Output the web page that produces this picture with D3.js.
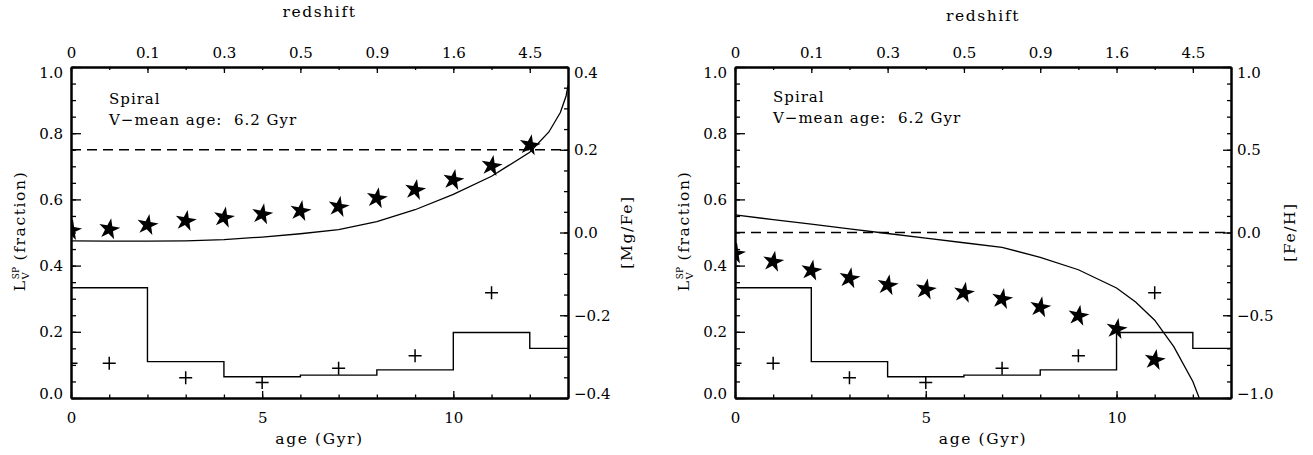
<!DOCTYPE html>
<html>
<head>
<meta charset="utf-8">
<script src="https://cdn.jsdelivr.net/npm/d3@7"></script>
<style>
body { margin: 0; background: #fff; }
svg text { font-family: "DejaVu Serif", "Liberation Serif", serif; font-size: 15px; fill: #000; }
svg text.title { font-size: 15.5px; letter-spacing: 1.6px; }
svg text.note { font-size: 15px; letter-spacing: 1px; }
</style>
</head>
<body>
<div id="chart"></div>
<script>
// --- data ---
var redshiftAges = [0, 2, 4, 6, 8, 10, 12];
var redshiftLabels = ["0", "0.1", "0.3", "0.5", "0.9", "1.6", "4.5"];

// light fraction per age bin (histogram) and single-age points (+)
var binEdges = [0, 2, 4, 6, 8, 10, 12, 13];
var binFrac = [0.333, 0.11, 0.064, 0.069, 0.085, 0.198, 0.15];
var plusAges = [0, 1, 3, 5, 7, 9, 11];
var plusFrac = [0.105, 0.105, 0.061, 0.047, 0.09, 0.128, 0.318];

// left panel: [Mg/Fe]
var starAgesMg = [0, 1, 2, 3, 4, 5, 6, 7, 8, 9, 10, 11, 12];
var starMgFe = [0.006, 0.008, 0.018, 0.028, 0.036, 0.044, 0.052, 0.062, 0.083, 0.103, 0.127, 0.161, 0.211];
var curveAgesMg = [0, 1, 2, 3, 4, 5, 6, 7, 8, 9, 10, 11, 12, 12.5, 12.8, 12.95, 13];
var curveMgFe = [-0.02, -0.021, -0.021, -0.02, -0.017, -0.011, -0.003, 0.007, 0.026, 0.055, 0.092, 0.136, 0.194, 0.243, 0.29, 0.33, 0.355];
var refMgFe = 0.2;

// right panel: [Fe/H]
var starAgesFe = [0, 1, 2, 3, 4, 5, 6, 7, 8, 9, 10, 11];
var starFeH = [-0.126, -0.176, -0.23, -0.276, -0.318, -0.344, -0.364, -0.402, -0.452, -0.503, -0.583, -0.77];
var curveAgesFe = [0, 1, 2, 3, 4, 5, 6, 7, 8, 9, 10, 10.5, 11, 11.5, 12, 12.3];
var curveFeH = [0.106, 0.078, 0.05, 0.022, -0.006, -0.034, -0.062, -0.09, -0.15, -0.225, -0.335, -0.42, -0.53, -0.69, -0.9, -1.08];
var refFeH = 0.0;

var svg = d3.select("#chart").append("svg")
    .attr("width", 1313)
    .attr("height", 455);

var top0 = 67, bottom0 = 398;

function styleAxis(g) {
    g.attr("font-family", null).attr("font-size", null);
    g.select(".domain").attr("stroke", "#000").attr("stroke-width", 2);
    g.selectAll(".tick line").attr("stroke", "#000").attr("stroke-width", 1.3);
}

function edgeLabels(g, lo, hi) {
    g.selectAll(".tick text").attr("dy", function(d) {
        if (Math.abs(d - hi) < 1e-9) return "0.72em";
        if (Math.abs(d - lo) < 1e-9) return "0em";
        return "0.33em";
    });
}

function drawPanel(o) {
    var x = d3.scaleLinear().domain([0, 13]).range([o.left, o.right]);
    var yL = d3.scaleLinear().domain([0, 1]).range([bottom0, top0]);
    var yR = d3.scaleLinear().domain(o.rDomain).range([bottom0, top0]);

    var clipId = "clip" + o.id;
    svg.append("clipPath").attr("id", clipId)
        .append("rect")
        .attr("x", o.left).attr("y", top0)
        .attr("width", o.right - o.left).attr("height", bottom0 - top0);

    var plot = svg.append("g").attr("clip-path", "url(#" + clipId + ")");

    // histogram
    var stepPts = binEdges.map(function(e, i) {
        return [e, binFrac[Math.min(i, binFrac.length - 1)]];
    });
    plot.append("path")
        .attr("d", d3.line()
            .x(function(d) { return x(d[0]); })
            .y(function(d) { return yL(d[1]); })
            .curve(d3.curveStepAfter)(stepPts))
        .attr("fill", "none").attr("stroke", "#000").attr("stroke-width", 1.4);

    // reference dashed line
    plot.append("line")
        .attr("x1", o.left).attr("x2", o.right)
        .attr("y1", yR(o.ref)).attr("y2", yR(o.ref))
        .attr("stroke", "#000").attr("stroke-width", 1.3)
        .attr("stroke-dasharray", "10,6");

    // model curve
    plot.append("path")
        .attr("d", d3.line()
            .x(function(d) { return x(d); })
            .y(function(d, i) { return yR(o.curveVals[i]); })(o.curveAges))
        .attr("fill", "none").attr("stroke", "#000").attr("stroke-width", 1.3);

    // plus markers
    var plus = plot.selectAll(".plus").data(plusAges).enter().append("g")
        .attr("transform", function(d, i) { return "translate(" + x(d) + "," + yL(plusFrac[i]) + ")"; });
    plus.append("path")
        .attr("d", "M-6.5,0H6.5M0,-6.5V6.5")
        .attr("stroke", "#000").attr("stroke-width", 1.5);

    // stars
    var star = d3.symbol().type(d3.symbolStar).size(140);
    plot.selectAll(".star").data(o.starAges).enter().append("path")
        .attr("d", star)
        .attr("transform", function(d, i) {
            return "translate(" + x(d) + "," + yR(o.starVals[i]) + ") rotate(10)";
        })
        .attr("fill", "#000");

    // axes
    var gb = svg.append("g").attr("transform", "translate(0," + bottom0 + ")");
    gb.call(d3.axisBottom(x).tickValues(d3.range(0, 14)).tickSize(-3.5).tickSizeOuter(0).tickFormat(""));
    styleAxis(gb);
    var gb2 = svg.append("g").attr("transform", "translate(0," + bottom0 + ")");
    gb2.call(d3.axisBottom(x).tickValues([0, 5, 10]).tickSize(-7).tickSizeOuter(0).tickPadding(14).tickFormat(d3.format("d")));
    styleAxis(gb2);

    var gt = svg.append("g").attr("transform", "translate(0," + top0 + ")");
    gt.call(d3.axisTop(x).tickValues(d3.range(0, 14)).tickSize(-3).tickSizeOuter(0).tickFormat(""));
    styleAxis(gt);
    var gt2 = svg.append("g").attr("transform", "translate(0," + top0 + ")");
    gt2.call(d3.axisTop(x).tickValues(redshiftAges).tickSize(-6).tickSizeOuter(0).tickPadding(9)
        .tickFormat(function(d, i) { return redshiftLabels[i]; }));
    styleAxis(gt2);

    var gl = svg.append("g").attr("transform", "translate(" + o.left + ",0)");
    gl.call(d3.axisLeft(yL).tickValues(d3.range(0, 21).map(function(k) { return k * 0.05; }))
        .tickSize(-5).tickSizeOuter(0).tickFormat(""));
    styleAxis(gl);
    var gl2 = svg.append("g").attr("transform", "translate(" + o.left + ",0)");
    gl2.call(d3.axisLeft(yL).tickValues([0, 0.2, 0.4, 0.6, 0.8, 1.0]).tickSize(-10).tickSizeOuter(0)
        .tickPadding(8).tickFormat(d3.format(".1f")));
    styleAxis(gl2);
    edgeLabels(gl2, 0, 1);

    var gr = svg.append("g").attr("transform", "translate(" + o.right + ",0)");
    gr.call(d3.axisRight(yR).tickValues(o.rMinor).tickSize(-4).tickSizeOuter(0).tickFormat(""));
    styleAxis(gr);
    var gr2 = svg.append("g").attr("transform", "translate(" + o.right + ",0)");
    gr2.call(d3.axisRight(yR).tickValues(o.rMajor).tickSize(-8).tickSizeOuter(0)
        .tickPadding(6).tickFormat(d3.format(".1f")));
    styleAxis(gr2);
    edgeLabels(gr2, o.rDomain[0], o.rDomain[1]);

    // titles
    var cx = (o.left + o.right) / 2;
    svg.append("text").attr("class", "title").attr("x", cx).attr("y", o.zTitleY)
        .attr("text-anchor", "middle").text("redshift");
    svg.append("text").attr("class", "title").attr("x", cx).attr("y", 444)
        .attr("text-anchor", "middle").text("age (Gyr)");

    var yl = svg.append("text").attr("class", "title")
        .attr("transform", "translate(" + (o.left - 46) + ",231) rotate(-90)")
        .attr("text-anchor", "middle");
    yl.append("tspan").text("L");
    yl.append("tspan").attr("dy", 4).style("font-size", "10px").style("letter-spacing", "0px").text("V");
    yl.append("tspan").attr("dx", -7).attr("dy", -10).style("font-size", "9px").style("letter-spacing", "0px").text("SP");
    yl.append("tspan").attr("dy", 6).text(" (fraction)");

    svg.append("text").attr("class", "title")
        .attr("transform", "translate(" + (o.right + 64) + ",232) rotate(-90)")
        .attr("text-anchor", "middle")
        .text(o.rTitle);

    svg.append("text").attr("class", "note").attr("x", o.left + 38).attr("y", o.noteY)
        .text("Spiral");
    svg.append("text").attr("class", "note").attr("x", o.left + 38).attr("y", o.noteY + 21)
        .attr("xml:space", "preserve").style("white-space", "pre")
        .text("V\u2212mean age:  6.2 Gyr");
}

drawPanel({
    id: "a", left: 71, right: 568,
    rDomain: [-0.4, 0.4],
    rMajor: [-0.4, -0.2, 0, 0.2, 0.4],
    rMinor: d3.range(0, 17).map(function(k) { return -0.4 + k * 0.05; }),
    rTitle: "[Mg/Fe]",
    ref: refMgFe,
    starAges: starAgesMg, starVals: starMgFe,
    curveAges: curveAgesMg, curveVals: curveMgFe,
    zTitleY: 17, noteY: 104
});

drawPanel({
    id: "b", left: 735, right: 1231,
    rDomain: [-1, 1],
    rMajor: [-1, -0.5, 0, 0.5, 1],
    rMinor: d3.range(0, 21).map(function(k) { return -1 + k * 0.1; }),
    rTitle: "[Fe/H]",
    ref: refFeH,
    starAges: starAgesFe, starVals: starFeH,
    curveAges: curveAgesFe, curveVals: curveFeH,
    zTitleY: 21, noteY: 102
});
</script>
</body>
</html>
